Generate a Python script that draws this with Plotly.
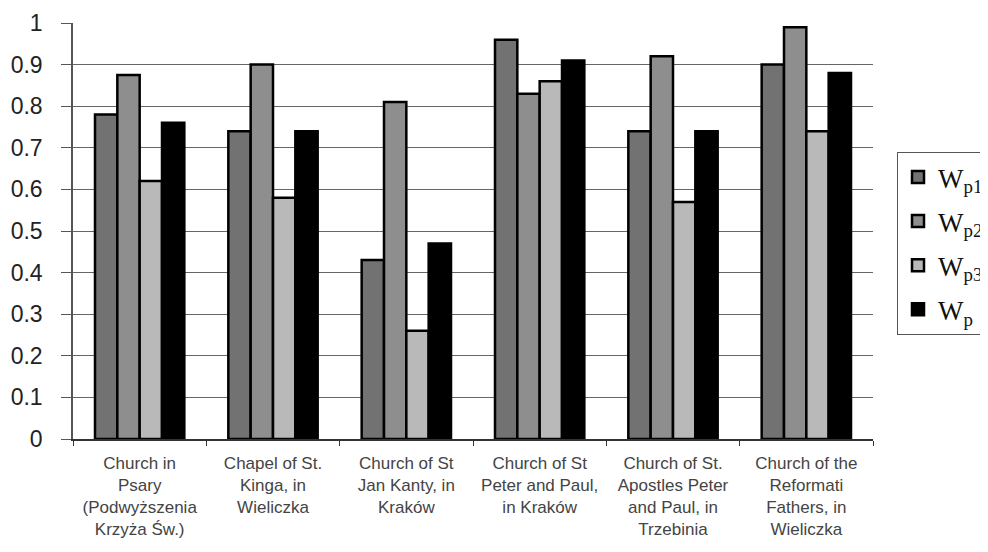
import plotly.graph_objects as go

categories = [
    "Church in<br>Psary<br>(Podwyższenia<br>Krzyża Św.)",
    "Chapel of St.<br>Kinga, in<br>Wieliczka",
    "Church of St<br>Jan Kanty, in<br>Kraków",
    "Church of St<br>Peter and Paul,<br>in Kraków",
    "Church of St.<br>Apostles Peter<br>and Paul, in<br>Trzebinia",
    "Church of the<br>Reformati<br>Fathers, in<br>Wieliczka",
]
series_names = ["W<sub>p1</sub>", "W<sub>p2</sub>", "W<sub>p3</sub>", "W<sub>p</sub>"]
wp1 = [0.78, 0.74, 0.43, 0.96, 0.74, 0.90]
wp2 = [0.875, 0.90, 0.81, 0.83, 0.92, 0.99]
wp3 = [0.62, 0.58, 0.26, 0.86, 0.57, 0.74]
wp = [0.76, 0.74, 0.47, 0.91, 0.74, 0.88]
series_values = [wp1, wp2, wp3, wp]
colors = ["#727272", "#8e8e8e", "#b9b9b9", "#000000"]
y_ticks = [0, 0.1, 0.2, 0.3, 0.4, 0.5, 0.6, 0.7, 0.8, 0.9, 1]
y_tick_labels = ["0", "0.1", "0.2", "0.3", "0.4", "0.5", "0.6", "0.7", "0.8", "0.9", "1"]

fig = go.Figure()
for i, (name, vals, col) in enumerate(zip(series_names, series_values, colors)):
    fig.add_trace(go.Bar(
        x=categories, y=vals, name=name,
        marker=dict(color=col, line=dict(color="#000000", width=2.5)),
        legendgroup=f"g{i}",
    ))

fig.update_layout(
    width=988, height=552,
    margin=dict(l=65, r=123, t=15, b=121, autoexpand=False),
    paper_bgcolor="white", plot_bgcolor="white",
    barmode="group", bargap=0.33, bargroupgap=0,
    font=dict(family="Liberation Sans, Arial", color="#222222"),
    showlegend=True,
    legend=dict(
        x=1.03, y=0.69, xanchor="left", yanchor="top",
        bordercolor="#555555", borderwidth=1, bgcolor="white",
        font=dict(family="Liberation Serif, Times New Roman", size=27, color="#111111"),
        tracegroupgap=6, itemwidth=30,
    ),
    xaxis=dict(
        type="category", tickson="boundaries", ticks="outside", ticklen=5,
        tickcolor="#333333", showline=True, linecolor="#333333", linewidth=1.5,
        tickfont=dict(size=17, color="#444444", family="Liberation Sans, Arial"),
        tickangle=0, showgrid=False, ticklabelstandoff=8,
    ),
    yaxis=dict(
        range=[0, 1], tickvals=y_ticks, ticktext=y_tick_labels,
        ticks="outside", ticklen=10, tickcolor="#555555",
        showline=True, linecolor="#555555", linewidth=1.5,
        showgrid=True, gridcolor="#666666", gridwidth=1,
        tickfont=dict(size=23, color="#222222", family="Liberation Sans, Arial"),
        ticklabelstandoff=14, zeroline=False,
    ),
)

fig.write_html("out.html")
